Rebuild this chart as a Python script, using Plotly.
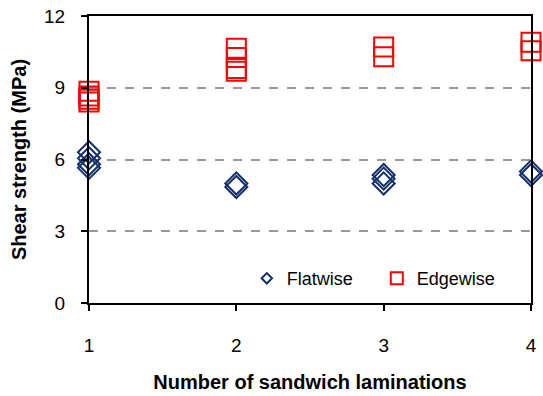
import plotly.graph_objects as go

# Shear strength measurements (MPa) per number of sandwich laminations
flat_x = [1, 1, 1, 1, 2, 2, 3, 3, 3, 4, 4]
flat_y = [6.3, 6.05, 5.8, 5.65, 5.0, 4.85, 5.35, 5.2, 5.0, 5.5, 5.35]

edge_x = [1, 1, 1, 1, 2, 2, 2, 2, 3, 3, 4, 4]
edge_y = [8.85, 8.65, 8.52, 8.4, 10.65, 10.27, 9.81, 9.69, 10.7, 10.3, 10.9, 10.55]

x_ticks = [1, 2, 3, 4]
y_ticks = [0, 3, 6, 9, 12]

NAVY = "#12306e"
RED = "#ff0000"
FONT = "Liberation Sans, Arial, sans-serif"

fig = go.Figure()

# data markers (no legend entries; compact legend symbols added below)
fig.add_trace(go.Scatter(
    x=flat_x, y=flat_y, mode="markers", showlegend=False, cliponaxis=False,
    marker=dict(symbol="diamond-open", size=17, color=NAVY, line=dict(color=NAVY, width=2)),
))
fig.add_trace(go.Scatter(
    x=edge_x, y=edge_y, mode="markers", showlegend=False, cliponaxis=False,
    marker=dict(symbol="square-open", size=19, color=RED, line=dict(color=RED, width=2)),
))

# legend entries with smaller symbols
fig.add_trace(go.Scatter(
    x=[None], y=[None], mode="markers", name="Flatwise",
    marker=dict(symbol="diamond-open", size=8, color=NAVY, line=dict(color=NAVY, width=2)),
))
fig.add_trace(go.Scatter(
    x=[None], y=[None], mode="markers", name="Edgewise",
    marker=dict(symbol="square-open", size=12, color=RED, line=dict(color=RED, width=2)),
))

fig.update_layout(
    width=543, height=396,
    margin=dict(l=89, r=6, t=15, b=92),
    paper_bgcolor="white", plot_bgcolor="white",
    font=dict(family=FONT, color="black", size=18),
    legend=dict(
        orientation="h", x=0.357, y=0.085, xanchor="left", yanchor="middle",
        bgcolor="rgba(0,0,0,0)", font=dict(size=18), itemsizing="trace",
        entrywidth=85, entrywidthmode="pixels", itemwidth=30,
    ),
)

fig.update_xaxes(
    range=[1, 4], tickvals=x_ticks, ticks="outside", ticklen=6, tickwidth=2,
    tickcolor="black", ticklabelstandoff=18,
    showline=True, linecolor="black", linewidth=2, mirror=True,
    showgrid=False, zeroline=False, tickfont=dict(size=19),
    title=dict(text="<b>Number of sandwich laminations</b>", font=dict(size=20), standoff=20),
)
fig.update_yaxes(
    range=[0, 12], tickvals=y_ticks, ticks="outside", ticklen=6, tickwidth=2,
    tickcolor="black", ticklabelstandoff=12,
    showline=True, linecolor="black", linewidth=2, mirror=True,
    showgrid=True, gridcolor="#999999", gridwidth=1.5, griddash="dash",
    zeroline=False, tickfont=dict(size=19),
    title=dict(text="<b>Shear strength (MPa)</b>", font=dict(size=20), standoff=12),
)

fig.write_html("out.html")
